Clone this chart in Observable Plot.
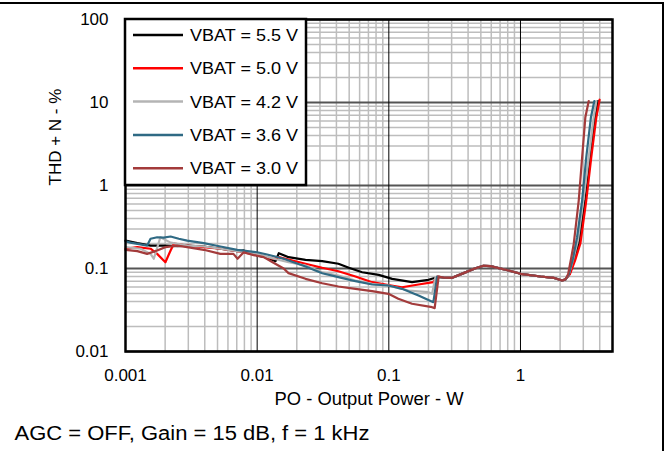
<!DOCTYPE html>
<html><head><meta charset="utf-8">
<script src="https://cdn.jsdelivr.net/npm/d3@7"></script>
<script src="https://cdn.jsdelivr.net/npm/@observablehq/plot@0.6"></script>
<style>
html,body{margin:0;padding:0;background:#fff;}
#wrap{position:relative;width:669px;height:451px;overflow:hidden;}
#frame{position:absolute;left:-5px;top:2px;width:669px;height:470px;border-top:2px solid #000;border-right:2px solid #000;box-sizing:border-box;pointer-events:none;}
</style></head><body>
<div id="wrap"><div id="chart"></div><div id="frame"></div></div>
<script>
const seriesNames = ["VBAT = 5.5 V","VBAT = 5.0 V","VBAT = 4.2 V","VBAT = 3.6 V","VBAT = 3.0 V"];
const seriesColors = ["#000000","#ff0000","#b4b4b4","#2f6a84","#a33b3b"];
const xTicks = [0.001,0.01,0.1,1];
const xTickLabels = ["0.001","0.01","0.1","1"];
const yTicks = [0.01,0.1,1,10,100];
const yTickLabels = ["0.01","0.1","1","10","100"];
const xLabel = "PO - Output Power - W";
const yLabel = "THD + N - %";
const caption = "AGC = OFF, Gain = 15 dB, f = 1 kHz";

// shared mid-power section (curves overlap here)
const commonMid = [[0.26,0.0775],[0.303,0.0773],[0.37,0.088],[0.45,0.1],[0.523,0.108],[0.591,0.107],[0.813,0.0946],[1.0,0.0863],[1.42,0.0801],[1.78,0.0773],[2.07,0.0717],[2.2,0.074]];

const vbat55Low = [[0.001,0.217],[0.00123,0.202],[0.00155,0.189],[0.00195,0.189],[0.0025,0.186],[0.00294,0.189],[0.00393,0.184],[0.00526,0.173],[0.00705,0.162],[0.0079,0.165],[0.01,0.1435],[0.0119,0.135],[0.0138,0.1225],[0.0146,0.153],[0.0173,0.137],[0.0233,0.127],[0.0312,0.1225],[0.0414,0.114],[0.0497,0.102],[0.0627,0.0902],[0.0838,0.0839],[0.106,0.0751],[0.118,0.0731],[0.150,0.0684],[0.200,0.0731],[0.226,0.0773],[0.239,0.0786]];
const vbat55High = [[2.35,0.085],[2.55,0.125],[2.77,0.199],[3.11,0.659],[3.40,2.19],[3.70,6.65],[3.88,10.4]];

const vbat50Low = [[0.001,0.173],[0.00123,0.181],[0.00155,0.173],[0.00174,0.150],[0.00201,0.119],[0.0022,0.165],[0.00233,0.199],[0.00294,0.189],[0.00393,0.181],[0.00526,0.173],[0.00705,0.162],[0.01,0.145],[0.0134,0.13],[0.0146,0.137],[0.0173,0.128],[0.0233,0.114],[0.0312,0.102],[0.0414,0.0927],[0.0558,0.0801],[0.0747,0.0684],[0.0993,0.063],[0.126,0.0595],[0.168,0.0642],[0.218,0.0684],[0.233,0.080]];
const vbat50High = [[2.37,0.085],[2.6,0.125],[2.85,0.2],[3.16,0.659],[3.45,2.19],[3.77,6.65],[3.99,10.8]];

const vbat42Low = [[0.001,0.181],[0.0013,0.173],[0.00155,0.15],[0.00164,0.131],[0.00184,0.238],[0.0022,0.205],[0.00294,0.189],[0.00393,0.184],[0.00526,0.173],[0.00705,0.162],[0.01,0.150],[0.0134,0.131],[0.0173,0.119],[0.0233,0.1087],[0.0312,0.0902],[0.0414,0.0824],[0.0558,0.0717],[0.0747,0.0654],[0.0993,0.0624],[0.141,0.0543],[0.200,0.0518],[0.213,0.0495],[0.226,0.0786]];
const vbat42High = [[2.33,0.085],[2.52,0.13],[2.73,0.217],[3.0,0.659],[3.3,2.19],[3.6,6.65],[3.77,10.4]];

const vbat36Low = [[0.001,0.213],[0.00109,0.205],[0.0013,0.195],[0.00146,0.189],[0.00155,0.228],[0.00174,0.238],[0.00195,0.236],[0.0022,0.243],[0.00254,0.228],[0.00294,0.217],[0.00393,0.202],[0.00526,0.184],[0.00705,0.168],[0.01,0.157],[0.0119,0.1475],[0.0159,0.131],[0.0233,0.1057],[0.0312,0.0877],[0.0414,0.0786],[0.0558,0.0703],[0.0747,0.0642],[0.0993,0.0624],[0.126,0.0569],[0.168,0.0473],[0.218,0.0393],[0.233,0.0801]];
const vbat36High = [[2.33,0.085],[2.5,0.13],[2.69,0.238],[2.94,0.659],[3.16,2.19],[3.43,6.65],[3.64,10.4]];

const vbat30Low = [[0.001,0.168],[0.00123,0.162],[0.00146,0.150],[0.00174,0.165],[0.00201,0.181],[0.00247,0.189],[0.00294,0.181],[0.00393,0.168],[0.00526,0.150],[0.0066,0.15],[0.0071,0.131],[0.0079,0.157],[0.0094,0.145],[0.0112,0.137],[0.013,0.12],[0.0159,0.1],[0.0173,0.088],[0.0233,0.0751],[0.0312,0.0665],[0.0414,0.0607],[0.0558,0.0569],[0.0747,0.0533],[0.0993,0.0495],[0.118,0.0432],[0.150,0.0376],[0.213,0.0342],[0.223,0.0333],[0.239,0.0801]];
const vbat30High = [[2.3,0.085],[2.42,0.13],[2.54,0.199],[2.77,0.659],[2.94,2.19],[3.11,6.65],[3.30,10.4]];

const parts = [
  [vbat55Low, vbat55High],
  [vbat50Low, vbat50High],
  [vbat42Low, vbat42High],
  [vbat36Low, vbat36High],
  [vbat30Low, vbat30High]
];
const rows = [];
parts.forEach(([lo, hi], i) => {
  [...lo, ...commonMid, ...hi].forEach(([x, y]) => rows.push({x, y, s: seriesNames[i]}));
});

const isDecade = v => Math.abs(Math.log10(v) - Math.round(Math.log10(v))) < 1e-6;
const minorX = d3.scaleLog().domain([0.001, 5]).ticks().filter(v => !isDecade(v) && v < 5);
const minorY = d3.scaleLog().domain([0.01, 100]).ticks().filter(v => !isDecade(v));

const font = "'Liberation Sans', Arial, sans-serif";
const chart = Plot.plot({
  width: 669, height: 451,
  marginLeft: 125, marginRight: 57, marginTop: 19, marginBottom: 100,
  style: {fontFamily: font, fontSize: "17px", background: "white", color: "#000"},
  x: {type: "log", domain: [0.001, 5]},
  y: {type: "log", domain: [0.01, 100]},
  color: {domain: seriesNames, range: seriesColors},
  marks: [
    Plot.ruleX(minorX, {stroke: "#bdbdbd", strokeWidth: 1.5}),
    Plot.ruleY(minorY, {stroke: "#bdbdbd", strokeWidth: 1.5}),
    Plot.ruleY(yTicks, {stroke: "#555", strokeWidth: 1.8}),
    Plot.ruleX(xTicks, {stroke: "#000", strokeWidth: 1}),
    Plot.line(rows, {x: "x", y: "y", z: "s", stroke: "s", strokeWidth: 2.2}),
    Plot.frame({stroke: "#000", strokeWidth: 2.5}),
    Plot.axisX(xTicks, {tickSize: 0, tickPadding: 17, fontSize: 17, label: null, tickFormat: d => xTickLabels[xTicks.indexOf(d)]}),
    Plot.axisY(yTicks, {tickSize: 0, tickPadding: 17, fontSize: 17, label: null, tickFormat: d => yTickLabels[yTicks.indexOf(d)]}),
    Plot.text([yLabel], {frameAnchor: "left", dx: -70, rotate: -90, fontSize: 17, lineAnchor: "middle"}),
    Plot.text([xLabel], {frameAnchor: "bottom", dy: 48, fontSize: 18, lineAnchor: "middle"}),
    Plot.text([caption], {frameAnchor: "bottom-left", dx: -111, dy: 82, textAnchor: "start", fontSize: 20, lineAnchor: "middle"})
  ]
});
document.getElementById("chart").appendChild(chart);

const svg = d3.select(chart);
// stretch the caption and axis title to the reference widths
svg.selectAll("text").each(function() {
  const t = d3.select(this).text();
  if (t === caption) d3.select(this).attr("textLength", 355).attr("lengthAdjust", "spacingAndGlyphs");
  if (t === xLabel) d3.select(this).attr("textLength", 189).attr("lengthAdjust", "spacingAndGlyphs");
});

// legend box in the upper-left of the plot area
const lg = svg.append("g");
lg.append("rect").attr("x", 125).attr("y", 19).attr("width", 181).attr("height", 166)
  .attr("fill", "white").attr("stroke", "#000").attr("stroke-width", 2.5);
seriesNames.forEach((name, i) => {
  const yy = 35 + i * 33.3;
  lg.append("line").attr("x1", 133).attr("x2", 183).attr("y1", yy).attr("y2", yy)
    .attr("stroke", seriesColors[i]).attr("stroke-width", 2.5);
  lg.append("text").attr("x", 190).attr("y", yy).attr("dy", "0.35em")
    .attr("style", `font-family:${font};font-size:17px;text-anchor:start;fill:#000`)
    .attr("textLength", 108).attr("lengthAdjust", "spacingAndGlyphs")
    .text(name);
});
</script></body></html>
